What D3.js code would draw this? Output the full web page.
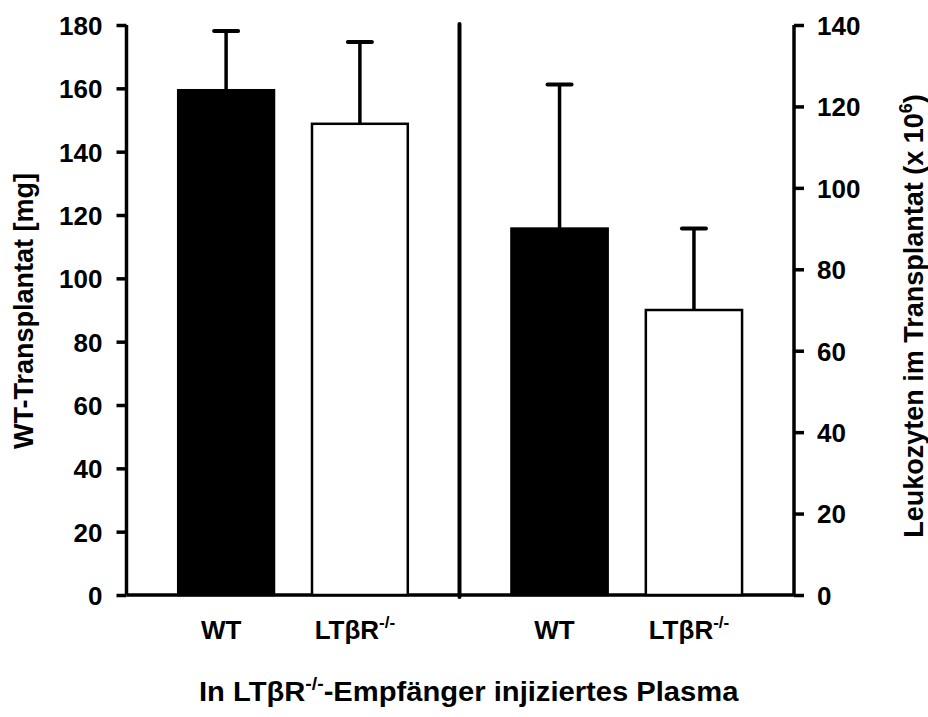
<!DOCTYPE html>
<html>
<head>
<meta charset="utf-8">
<script src="https://cdn.jsdelivr.net/npm/d3@7"></script>
<style>
  html, body { margin: 0; padding: 0; background: #fff; }
  svg { display: block; }
  text { font-family: "Liberation Sans", Arial, sans-serif; font-weight: bold; fill: #000; }
</style>
</head>
<body>
<svg id="chart" width="928" height="717"></svg>
<script>
// ---- data ----
const groups = ["WT", "LTβR"];
const groupSup = ["", "-/-"];
const weightMean = [159.4, 148.8];     // WT-Transplantat [mg]
const weightErr  = [18.7, 25.8];
const leukoMean  = [90, 70];           // Leukozyten (x 10^6)
const leukoErr   = [35.4, 20];
const barFills   = ["#000", "#fff"];
const leftTicks  = [0, 20, 40, 60, 80, 100, 120, 140, 160, 180];
const rightTicks = [0, 20, 40, 60, 80, 100, 120, 140];

const svg = d3.select("#chart");
const x0 = 126.5, xMid = 459.5, x1 = 794;
const yTop = 25, yBot = 595;

const yL = d3.scaleLinear().domain([0, 180]).range([yBot, yTop]);
const yR = d3.scaleLinear().domain([0, 140]).range([yBot, yTop]);

const bandL = d3.scaleBand().domain(groups).range([x0, xMid]).paddingInner(0.284).paddingOuter(0.3865);
const bandR = d3.scaleBand().domain(groups).range([xMid, x1]).paddingInner(0.284).paddingOuter(0.3865);

// axes
const axL = svg.append("g").attr("transform", `translate(${x0},0)`)
  .call(d3.axisLeft(yL).tickValues(leftTicks).tickSize(10).tickPadding(14).tickFormat(d3.format("d")));
const axR = svg.append("g").attr("transform", `translate(${x1},0)`)
  .call(d3.axisRight(yR).tickValues(rightTicks).tickSize(10).tickPadding(13).tickFormat(d3.format("d")));
[axL, axR].forEach(ax => {
  ax.select(".domain").attr("stroke", "#000").attr("stroke-width", 3.5).attr("d", `M0,${yTop}V${yBot}`);
  ax.selectAll(".tick line").attr("stroke", "#000").attr("stroke-width", 3.5);
  ax.selectAll(".tick text").style("font-size", "26px").attr("dy", "0.36em");
});

// bottom baseline
svg.append("line").attr("x1", x0).attr("x2", x1).attr("y1", yBot).attr("y2", yBot)
  .attr("stroke", "#000").attr("stroke-width", 3.5);
// divider
svg.append("line").attr("x1", xMid).attr("x2", xMid).attr("y1", yTop - 1).attr("y2", yBot + 2)
  .attr("stroke", "#000").attr("stroke-width", 4).attr("stroke-linecap", "round");

function drawPanel(band, y, means, errs) {
  const g = svg.append("g");
  const bw = band.bandwidth();
  groups.forEach((k, i) => {
    const cx = band(k) + bw / 2;
    g.append("line").attr("x1", cx).attr("x2", cx).attr("y1", y(means[i])).attr("y2", y(means[i] + errs[i]))
      .attr("stroke", "#000").attr("stroke-width", 3.5);
    g.append("line").attr("x1", cx - 12).attr("x2", cx + 12).attr("y1", y(means[i] + errs[i])).attr("y2", y(means[i] + errs[i]))
      .attr("stroke", "#000").attr("stroke-width", 4).attr("stroke-linecap", "round");
  });
  groups.forEach((k, i) => {
    g.append("rect").attr("x", band(k)).attr("width", bw)
      .attr("y", y(means[i])).attr("height", y(0) - y(means[i]))
      .attr("fill", barFills[i]).attr("stroke", "#000").attr("stroke-width", 2.5);
  });
  groups.forEach((k, i) => {
    const t = svg.append("text").attr("x", band(k) + bw / 2 - 5).attr("y", 639)
      .attr("text-anchor", "middle").style("font-size", "26px");
    t.append("tspan").text(k);
    if (groupSup[i]) t.append("tspan").attr("dy", -11).style("font-size", "17px").text(groupSup[i]);
  });
}
drawPanel(bandL, yL, weightMean, weightErr);
drawPanel(bandR, yR, leukoMean, leukoErr);

// axis titles
svg.append("text").attr("transform", "translate(33,311) rotate(-90)")
  .attr("text-anchor", "middle").style("font-size", "27px").text("WT-Transplantat [mg]");

const rt = svg.append("text").attr("transform", "translate(923,316) rotate(-90)")
  .attr("text-anchor", "middle").style("font-size", "27px");
rt.append("tspan").text("Leukozyten im Transplantat (x 10");
rt.append("tspan").attr("dy", -11).style("font-size", "18px").text("6");
rt.append("tspan").attr("dy", 11).text(")");

const bt = svg.append("text").attr("transform", "translate(199,701) scale(1.08,1)").style("font-size", "27px");
bt.append("tspan").text("In LTβR");
bt.append("tspan").attr("dy", -11).style("font-size", "18px").text("-/-");
bt.append("tspan").attr("dy", 11).text("-Empfänger injiziertes Plasma");
</script>
</body>
</html>
